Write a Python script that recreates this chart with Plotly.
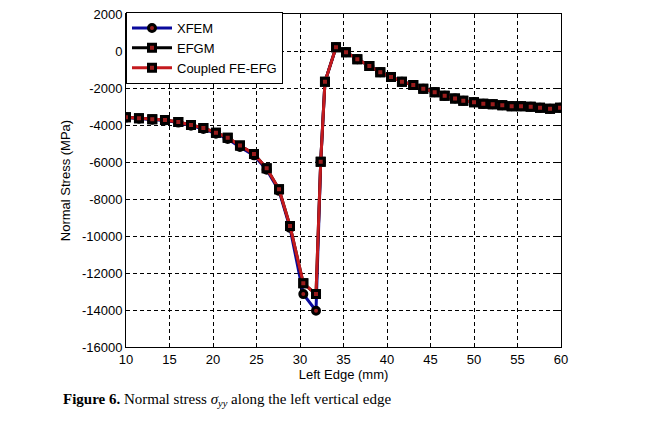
import plotly.graph_objects as go

# Left Edge positions (mm)
x_left = [10.0, 11.49, 13.02, 14.48, 16.01, 17.47, 18.89, 20.34, 21.69, 23.10,
          24.71, 26.17, 27.59, 28.85, 30.38, 31.84]
x_right = [32.38, 32.87, 34.14, 35.29, 36.59, 37.97, 39.23, 40.46, 41.72, 43.02,
           44.17, 45.48, 46.63, 47.82, 48.77, 50.0, 51.07, 52.15, 53.25, 54.33,
           55.40, 56.52, 57.59, 58.74, 59.89]

# Normal stress (MPa)
xfem_left = [-3600, -3660, -3710, -3760, -3870, -4040, -4210, -4470, -4750, -5190,
             -5640, -6420, -7560, -9560, -13140, -14040]
coupled_left = [-3584, -3638, -3692, -3730, -3838, -4000, -4162, -4416, -4686, -5110,
                -5568, -6341, -7476, -9459, -12560, -13140]
right_vals = [-5984, -1659, 200, -70, -449, -811, -1151, -1405, -1659, -1838,
              -2038, -2232, -2416, -2568, -2686, -2773, -2849, -2881, -2935, -2989,
              -2989, -3011, -3065, -3119, -3065]

x_all = x_left + x_right
xfem = xfem_left + right_vals
efgm = coupled_left + right_vals
coupled = coupled_left + right_vals

x_ticks = [10, 15, 20, 25, 30, 35, 40, 45, 50, 55, 60]
y_ticks = [2000, 0, -2000, -4000, -6000, -8000, -10000, -12000, -14000, -16000]
y_ticktext = ["2000", "0", "-2000", "-4000", "-6000", "-8000", "-10000",
              "-12000", "-14000", "-16000"]

SANS = "Liberation Sans, Arial"
fig = go.Figure()
mk = dict(color="#9a1c1c", line=dict(color="black", width=3))
fig.add_trace(go.Scatter(x=x_all, y=xfem, name="XFEM", mode="lines+markers",
                         line=dict(color="#0a0a9c", width=3),
                         marker=dict(symbol="circle", size=7, **mk)))
fig.add_trace(go.Scatter(x=x_all, y=efgm, name="EFGM", mode="lines+markers",
                         line=dict(color="black", width=3),
                         marker=dict(symbol="square", size=7, **mk)))
fig.add_trace(go.Scatter(x=x_all, y=coupled, name="Coupled FE-EFG", mode="lines+markers",
                         line=dict(color="#c41a1e", width=3),
                         marker=dict(symbol="square", size=7, **mk)))

axis_common = dict(showline=True, linecolor="black", linewidth=1, mirror="ticks",
                   showgrid=True, gridcolor="black", griddash="4px,3px", gridwidth=1,
                   ticks="inside", ticklen=4, tickcolor="black", zeroline=False,
                   tickfont=dict(family=SANS, size=13, color="black"))

fig.update_xaxes(range=[10, 60], tickvals=x_ticks, **axis_common,
                 title=dict(text="Left Edge (mm)", standoff=3,
                            font=dict(family=SANS, size=13, color="black")))
fig.update_yaxes(range=[-16000, 2000], tickvals=y_ticks, ticktext=y_ticktext, **axis_common,
                 title=dict(text="Normal Stress (MPa)", standoff=8,
                            font=dict(family=SANS, size=13, color="black")))

fig.update_layout(
    width=655, height=422,
    margin=dict(l=126, r=94, t=14, b=75, autoexpand=False),
    paper_bgcolor="white", plot_bgcolor="white",
    showlegend=True,
    legend=dict(x=0, y=1.006, xanchor="left", yanchor="top",
                bgcolor="white", bordercolor="black", borderwidth=1,
                font=dict(family=SANS, size=13, color="black"),
                tracegroupgap=0, itemwidth=40),
    annotations=[dict(
        text="<b>Figure 6.</b> Normal stress <i>σ</i><sub><i>yy</i></sub> along the left vertical edge",
        xref="paper", yref="paper", x=-0.149, y=-0.125, xanchor="left", yanchor="top",
        showarrow=False,
        font=dict(family="Liberation Serif, Times New Roman", size=15, color="black"))],
)

fig.write_html("out.html")
